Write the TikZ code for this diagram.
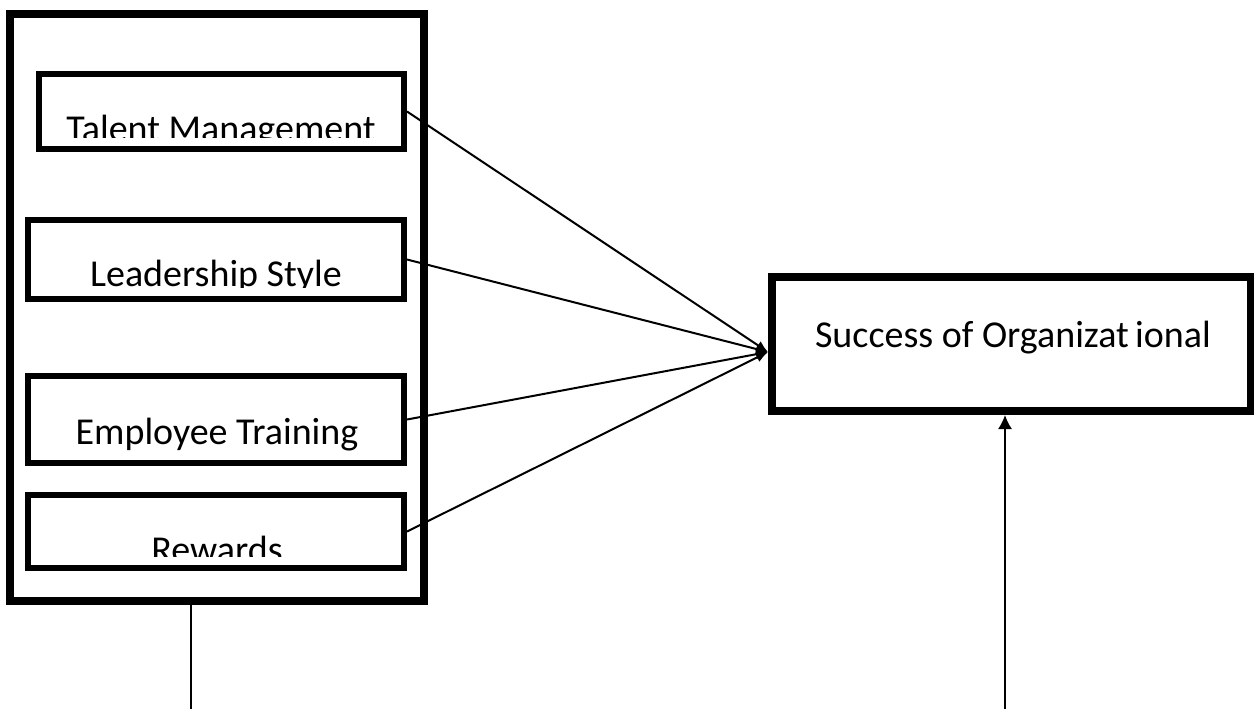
\documentclass[tikz,border=0pt]{standalone}
\usepackage{fontspec}
\setmainfont{Carlito}
\usetikzlibrary{positioning,arrows.meta}

\begin{document}
\begin{tikzpicture}[x=0.5pt, y=-0.5pt,
	outbox/.style = {rectangle, draw, line width=4pt, inner sep=0pt},
	inbox/.style = {rectangle, draw, line width=3pt, inner sep=0pt},
	lbl/.style = {anchor=base, inner sep=0pt, font=\fontsize{19}{22}\selectfont},
	link/.style = {-{Latex[length=6pt,width=5pt]}, line width=1pt}]
	\useasboundingbox (0,0) rectangle (1254,709);

	\node[outbox, minimum width=207pt, minimum height=293.5pt] (grp) at (217, 307.5) {};
	\node[inbox, minimum width=182.75pt, minimum height=37.5pt] (tm) at (221.25, 111.5) {};
	\node[inbox, minimum width=188pt, minimum height=39.5pt] (ls) at (216, 259.5) {};
	\node[inbox, minimum width=188pt, minimum height=43.5pt] (et) at (216, 419.5) {};
	\node[inbox, minimum width=188pt, minimum height=36.5pt] (rw) at (216, 531.5) {};
	\node[outbox, minimum width=239.5pt, minimum height=67pt] (soc) at (1011.5, 344) {};

	% texts are cut at the bottom
	\begin{scope}
		\clip (40,76) rectangle (402,137);
		\node[lbl] (tmtext) at (221, 141) {Talent Management};
	\end{scope}
	\begin{scope}
		\clip (30,222) rectangle (402,287);
		\node[lbl] (lstext) at (216, 286) {Leadership Style};
	\end{scope}
	\begin{scope}
		\clip (30,378) rectangle (402,450);
		\node[lbl] (ettext) at (217, 444) {Employee Training};
	\end{scope}
	\begin{scope}
		\clip (30,497) rectangle (402,556);
		\node[lbl] (rwtext) at (217, 562) {Rewards};
	\end{scope}
	\node[lbl] (soctext) at (1013, 347) {Success of Organizat\,ional};

	\draw[link] (tm.east) to ([yshift=-4pt]soc.west);
	\draw[link] (ls.east) to ([yshift=-4pt]soc.west);
	\draw[link] (et.east) to ([yshift=-4pt]soc.west);
	\draw[link] (rw.east) to ([yshift=-4pt]soc.west);

	\coordinate (lbot) at (191, 709);
	\coordinate (rbot) at (1005, 709);
	\draw[line width=0.75pt] (lbot |- grp.south) to (lbot);
	\draw[-{Latex[length=7pt,width=7pt]}, line width=0.75pt] (rbot) to (rbot |- soc.south);
\end{tikzpicture}
\end{document}
